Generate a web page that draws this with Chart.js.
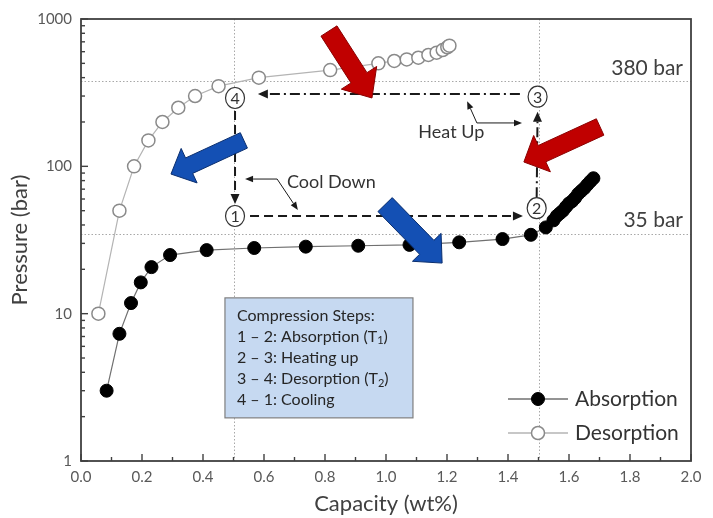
<!DOCTYPE html>
<html><head><meta charset="utf-8">
<script src="https://cdn.jsdelivr.net/npm/chart.js@4"></script>
<style>html,body{margin:0;padding:0;background:#fff;}</style>
</head><body>
<canvas id="c" width="713" height="518"></canvas>
<script>
// ---------------- data ----------------
const absorptionX = [0.084, 0.126, 0.164, 0.196, 0.231, 0.292, 0.412, 0.568, 0.737, 0.909, 1.077, 1.240, 1.382, 1.475, 1.524,
                     1.549, 1.56, 1.57, 1.58, 1.59, 1.60, 1.61, 1.62, 1.63, 1.64, 1.65, 1.66, 1.67, 1.68];
const absorptionP = [3.0, 7.3, 11.8, 16.3, 20.7, 25.0, 27.0, 27.9, 28.5, 28.9, 29.3, 30.5, 32.1, 34.3, 38.5,
                     43, 46, 48, 50, 53, 56, 58, 61, 65, 68, 71, 75, 79, 83];
const desorptionX = [0.057, 0.126, 0.174, 0.221, 0.267, 0.319, 0.374, 0.451, 0.583, 0.817, 0.975, 1.027, 1.068, 1.106, 1.139, 1.166, 1.186, 1.201, 1.208];
const desorptionP = [10, 50, 100, 150, 200, 250, 300, 350, 400, 450, 500, 519, 532, 546, 570, 591, 616, 643, 659];
const seriesNames = ['Absorption', 'Desorption'];
const xTickValues = [0, 0.2, 0.4, 0.6, 0.8, 1.0, 1.2, 1.4, 1.6, 1.8, 2.0];
const yTickValues = [1, 10, 100, 1000];
const refPressures = [380, 35];
const refPressureLabels = ['380 bar', '35 bar'];
const refCapacities = [0.5, 1.5];
// cycle state points (capacity, pressure)
const stateLabels = ['1', '2', '3', '4'];
const stateX = [0.505, 1.494, 1.497, 0.505];
const stateP = [46, 52, 297, 291];
const boxLines = [
  [['Compression Steps:']],
  [['1 \u2013 2: Absorption (T'], ['1', 'sub'], [')']],
  [['2 \u2013 3: Heating up']],
  [['3 \u2013 4: Desorption (T'], ['2', 'sub'], [')']],
  [['4 \u2013 1: Cooling']]
];

const FONT = 'Lato';

// ---------------- helpers ----------------
function smallHead(ctx, x0, y0, x1, y1, L, W) {
  const dx = x1 - x0, dy = y1 - y0, len = Math.hypot(dx, dy), ux = dx / len, uy = dy / len;
  const bx = x1 - ux * L, by = y1 - uy * L, nx = -uy, ny = ux;
  ctx.beginPath();
  ctx.moveTo(x1, y1);
  ctx.lineTo(bx + nx * W, by + ny * W);
  ctx.lineTo(bx - nx * W, by - ny * W);
  ctx.closePath();
  ctx.fill();
  return [bx, by];
}
function bigArrow(ctx, x0, y0, x1, y1, shaftW, headHalf, headL, fill, stroke) {
  const dx = x1 - x0, dy = y1 - y0, len = Math.hypot(dx, dy), ux = dx / len, uy = dy / len;
  const nx = -uy, ny = ux, s = shaftW / 2, h = headHalf;
  const bx = x1 - ux * headL, by = y1 - uy * headL;
  const pts = [[x0 + nx * s, y0 + ny * s], [bx + nx * s, by + ny * s], [bx + nx * h, by + ny * h], [x1, y1],
               [bx - nx * h, by - ny * h], [bx - nx * s, by - ny * s], [x0 - nx * s, y0 - ny * s]];
  ctx.beginPath();
  pts.forEach((p, i) => i ? ctx.lineTo(p[0], p[1]) : ctx.moveTo(p[0], p[1]));
  ctx.closePath();
  ctx.fillStyle = fill; ctx.fill();
  ctx.lineWidth = 1; ctx.strokeStyle = stroke; ctx.setLineDash([]); ctx.stroke();
}

const deco = {
  id: 'deco',
  beforeDatasetsDraw(chart) {
    const { ctx, chartArea: a, scales: { x, y } } = chart;
    ctx.save();
    ctx.strokeStyle = '#a8a8a8'; ctx.lineWidth = 1; ctx.setLineDash([1.5, 2]);
    refCapacities.forEach(v => {
      const px = Math.round(x.getPixelForValue(v)) + 0.5;
      ctx.beginPath(); ctx.moveTo(px, a.top); ctx.lineTo(px, a.bottom); ctx.stroke();
    });
    refPressures.forEach(v => {
      const py = Math.round(y.getPixelForValue(v)) + 0.5;
      ctx.beginPath(); ctx.moveTo(a.left, py); ctx.lineTo(a.right, py); ctx.stroke();
    });
    ctx.restore();
  },
  afterDatasetsDraw(chart) {
    const { ctx, chartArea: a, scales: { x, y } } = chart;
    const X = v => x.getPixelForValue(v), Y = v => y.getPixelForValue(v);
    ctx.save();
    // frame
    ctx.setLineDash([]);
    ctx.strokeStyle = '#404040'; ctx.lineWidth = 1.8;
    ctx.strokeRect(a.left, a.top, a.right - a.left, a.bottom - a.top);
    // inward ticks
    ctx.lineWidth = 1.4;
    for (let d = 1; d <= 1000; d *= 10) {
      for (let m = 1; m <= 9; m++) {
        const v = d * m; if (v > 1000) break;
        const py = Y(v), L = m === 1 ? 7 : 4;
        ctx.beginPath(); ctx.moveTo(a.left, py); ctx.lineTo(a.left + L, py); ctx.stroke();
      }
    }
    for (let i = 0; i <= 20; i++) {
      const v = i / 10, px = X(v), L = i % 2 === 0 ? 7 : 4;
      ctx.beginPath(); ctx.moveTo(px, a.bottom); ctx.lineTo(px, a.bottom - L); ctx.stroke();
    }
    // reference labels
    ctx.fillStyle = '#404040'; ctx.font = '21px ' + FONT; ctx.textAlign = 'right'; ctx.textBaseline = 'middle';
    refPressures.forEach((v, i) => ctx.fillText(refPressureLabels[i], a.right - 8, Y(v) - 13));

    // cycle lines
    const P = i => [X(stateX[i]), Y(stateP[i])];
    ctx.strokeStyle = '#1a1a1a'; ctx.fillStyle = '#1a1a1a'; ctx.lineWidth = 2;
    function cycleLine(x0, y0, x1, y1, dash) {
      ctx.setLineDash([]);
      const b = smallHead(ctx, x0, y0, x1, y1, 10, 4.5);
      ctx.setLineDash(dash);
      ctx.beginPath(); ctx.moveTo(x0, y0); ctx.lineTo(b[0], b[1]); ctx.stroke();
    }
    const s1 = P(0), s2 = P(1), s3 = P(2), s4 = P(3);
    const dashed = [9, 5], dashDot = [10, 4, 2, 4];
    cycleLine(s4[0], s4[1] + 13, s1[0], s1[1] - 12, dashed);       // 4 -> 1
    cycleLine(s1[0] + 15, s1[1], X(1.449), s1[1], dashed);          // 1 -> 2
    cycleLine(s2[0], s2[1] - 11, s3[0], s3[1] + 15, dashDot);       // 2 -> 3
    cycleLine(X(1.439), Y(310), X(0.580), Y(310), dashDot);        // 3 -> 4

    // leaders
    ctx.lineWidth = 1; ctx.setLineDash([]);
    function leader(pts) {
      const n = pts.length;
      const b0 = smallHead(ctx, pts[1][0], pts[1][1], pts[0][0], pts[0][1], 8, 3.2);
      const b1 = smallHead(ctx, pts[n - 2][0], pts[n - 2][1], pts[n - 1][0], pts[n - 1][1], 8, 3.2);
      ctx.beginPath(); ctx.moveTo(b0[0], b0[1]);
      for (let i = 1; i < n - 1; i++) ctx.lineTo(pts[i][0], pts[i][1]);
      ctx.lineTo(b1[0], b1[1]); ctx.stroke();
    }
    leader([[X(0.538), Y(82)], [X(0.643), Y(82)], [X(0.711), Y(50.5)]]);
    leader([[X(1.266), Y(277)], [X(1.298), Y(197)], [X(1.446), Y(197)]]);
    ctx.fillStyle = '#333'; ctx.font = '18px ' + FONT; ctx.textAlign = 'left'; ctx.textBaseline = 'middle';
    ctx.fillText('Cool Down', X(0.675), Y(78));
    ctx.fillText('Heat Up', X(1.106), Y(171));

    // state circles
    stateLabels.forEach((lab, i) => {
      const [cx, cy] = P(i);
      ctx.beginPath(); ctx.ellipse(cx, cy, 9.5, 10.5, 0, 0, Math.PI * 2);
      ctx.fillStyle = '#fff'; ctx.fill();
      ctx.strokeStyle = '#333'; ctx.lineWidth = 1.2; ctx.stroke();
      ctx.fillStyle = '#333'; ctx.font = '16px ' + FONT; ctx.textAlign = 'center'; ctx.textBaseline = 'middle';
      ctx.fillText(lab, cx, cy + 1);
    });

    // big arrows
    const red = '#c00000', redB = '#8a0000', blue = '#1450b4', blueB = '#0a2e6e';
    bigArrow(ctx, X(0.813), Y(829), X(0.954), Y(291), 19, 21, 24, red, redB);
    bigArrow(ctx, X(1.702), Y(185), X(1.452), Y(107), 18, 20, 20, red, redB);
    bigArrow(ctx, X(0.534), Y(150), X(0.295), Y(88.6), 17, 19, 20, blue, blueB);
    bigArrow(ctx, X(0.997), Y(55), X(1.184), Y(22.05), 20, 20, 22, blue, blueB);

    // text box
    const bx = X(0.472), by = Y(12.8), bw = 188, bh = 120;
    ctx.fillStyle = '#c6d9f1'; ctx.fillRect(bx, by, bw, bh);
    ctx.strokeStyle = '#7f7f7f'; ctx.lineWidth = 1.2; ctx.strokeRect(bx, by, bw, bh);
    ctx.fillStyle = '#262626'; ctx.textAlign = 'left'; ctx.textBaseline = 'middle';
    boxLines.forEach((segs, i) => {
      let tx = bx + 12; const ty = by + 17.5 + 21.2 * i;
      segs.forEach(seg => {
        const sub = seg[1] === 'sub';
        ctx.font = (sub ? '11px ' : '16px ') + FONT;
        ctx.fillText(seg[0], tx, ty + (sub ? 4 : 0));
        tx += ctx.measureText(seg[0]).width;
      });
    });

    // legend
    const lx = a.right - 153, rows = [a.bottom - 62, a.bottom - 28];
    chart.data.datasets.forEach((ds, i) => {
      const ly = rows[i];
      ctx.setLineDash([]);
      ctx.strokeStyle = ds.borderColor; ctx.lineWidth = 1.3;
      ctx.beginPath(); ctx.moveTo(lx - 30, ly); ctx.lineTo(lx + 30, ly); ctx.stroke();
      ctx.beginPath(); ctx.arc(lx, ly, ds.pointRadius, 0, Math.PI * 2);
      ctx.fillStyle = ds.pointBackgroundColor; ctx.fill();
      ctx.strokeStyle = ds.pointBorderColor; ctx.lineWidth = ds.pointBorderWidth; ctx.stroke();
      ctx.fillStyle = '#333'; ctx.font = '21px ' + FONT; ctx.textAlign = 'left'; ctx.textBaseline = 'middle';
      ctx.fillText(ds.label, lx + 37, ly);
    });
    ctx.restore();
  }
};

new Chart(document.getElementById('c'), {
  type: 'scatter',
  data: {
    datasets: [
      {
        label: seriesNames[0],
        data: absorptionX.map((v, i) => ({ x: v, y: absorptionP[i] })),
        showLine: true, borderColor: '#707070', borderWidth: 1.2,
        pointRadius: 6.5, pointBackgroundColor: '#000', pointBorderColor: '#000', pointBorderWidth: 1
      },
      {
        label: seriesNames[1],
        data: desorptionX.map((v, i) => ({ x: v, y: desorptionP[i] })),
        showLine: true, borderColor: '#b4b4b4', borderWidth: 1.2,
        pointRadius: 6.5, pointBackgroundColor: '#fff', pointBorderColor: '#8a8a8a', pointBorderWidth: 1.5
      }
    ]
  },
  options: {
    responsive: false, animation: false,
    layout: { padding: { left: 0, top: 19, right: 22, bottom: 0 } },
    plugins: { legend: { display: false }, tooltip: { enabled: false } },
    scales: {
      x: {
        type: 'linear', min: 0, max: 2, position: 'bottom',
        grid: { display: false, drawTicks: false }, border: { display: false },
        afterBuildTicks: s => { s.ticks = xTickValues.map(v => ({ value: v })); },
        afterFit: s => { s.height = 57; },
        ticks: { padding: 7, color: '#595959', font: { family: FONT, size: 15 }, maxRotation: 0, autoSkip: false,
                 callback: v => Number(v).toFixed(1) },
        title: { display: true, text: 'Capacity (wt%)', color: '#404040', font: { family: FONT, size: 22 }, padding: { top: 0, bottom: 1 } }
      },
      y: {
        type: 'logarithmic', min: 1, max: 1000, position: 'left',
        grid: { display: false, drawTicks: false }, border: { display: false },
        afterBuildTicks: s => { s.ticks = yTickValues.map(v => ({ value: v })); },
        afterFit: s => { s.width = 81; },
        ticks: { padding: 9, color: '#595959', font: { family: FONT, size: 15 }, autoSkip: false,
                 callback: v => String(v) },
        title: { display: true, text: 'Pressure (bar)', color: '#404040', font: { family: FONT, size: 22 }, padding: { top: 7, bottom: 0 } }
      }
    }
  },
  plugins: [deco]
});
</script>
</body></html>
